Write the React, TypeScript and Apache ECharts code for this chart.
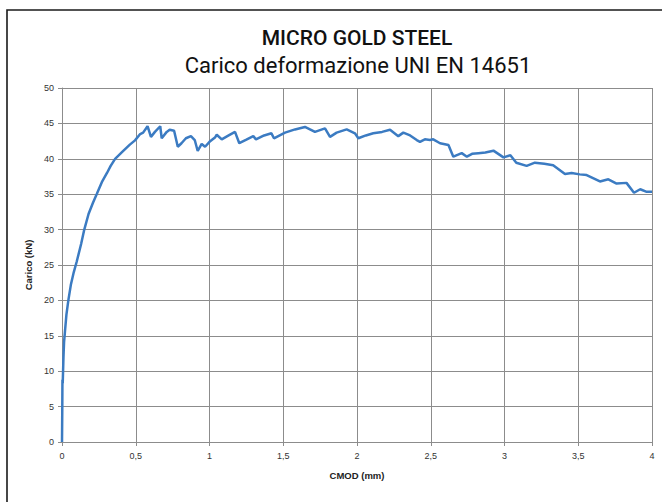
import React, { useEffect, useRef } from "react";
import * as echarts from "echarts";

const titleText = "MICRO GOLD STEEL";
const subtitleText = "Carico deformazione UNI EN 14651";
const xAxisName = "CMOD (mm)";
const yAxisName = "Carico (kN)";

const cmod = [
  0, 0.002, 0.003, 0.005, 0.01, 0.014, 0.02, 0.03, 0.043, 0.06, 0.08, 0.1, 0.13, 0.151, 0.18, 0.21, 0.235,
  0.27, 0.305, 0.33, 0.36, 0.41, 0.46, 0.495, 0.53, 0.55, 0.58, 0.603, 0.63, 0.666, 0.676, 0.71, 0.73,
  0.76, 0.785, 0.81, 0.84, 0.874, 0.9, 0.92, 0.947, 0.97, 1.0, 1.037, 1.049, 1.083, 1.13, 1.173, 1.202,
  1.25, 1.297, 1.315, 1.37, 1.42, 1.437, 1.512, 1.58, 1.647, 1.715, 1.783, 1.817, 1.862, 1.93, 1.986,
  2.009, 2.06, 2.11, 2.17, 2.224, 2.28, 2.314, 2.36, 2.405, 2.427, 2.46, 2.495, 2.517, 2.563, 2.62,
  2.653, 2.71, 2.745, 2.78, 2.823, 2.87, 2.925, 2.993, 3.04, 3.08, 3.15, 3.206, 3.27, 3.33, 3.41,
  3.455, 3.51, 3.557, 3.647, 3.704, 3.76, 3.827, 3.878, 3.92, 3.96, 4.0,
];

const load = [
  0, 5, 8.8, 8.3, 12, 14.1, 15.6, 18, 20, 22.2, 24, 25.5, 28, 30, 32.2, 33.8, 35,
  36.7, 38, 39, 40, 41, 42, 42.6, 43.5, 43.7, 44.6, 43.1, 43.8, 44.6, 42.9, 43.8, 44.1,
  43.95, 41.7, 42.2, 42.9, 43.2, 42.65, 41.1, 42.1, 41.7, 42.4, 43.0, 43.4, 42.75, 43.3, 43.8, 42.2,
  42.7, 43.2, 42.75, 43.3, 43.6, 42.9, 43.7, 44.15, 44.5, 43.8, 44.3, 43.1, 43.7, 44.15, 43.6,
  42.9, 43.3, 43.6, 43.8, 44.1, 43.2, 43.7, 43.3, 42.65, 42.4, 42.75, 42.65, 42.75, 42.2, 41.95,
  40.3, 40.8, 40.3, 40.7, 40.8, 40.9, 41.15, 40.2, 40.5, 39.45, 39.0, 39.45, 39.3, 39.1, 37.85,
  38.0, 37.8, 37.7, 36.8, 37.1, 36.5, 36.6, 35.2, 35.7, 35.35, 35.35,
];

const fmt = (v: number) => String(v).replace(".", ",");

export default function App() {
  const ref = useRef<HTMLDivElement>(null);
  useEffect(() => {
    if (!ref.current) return;
    const chart = echarts.init(ref.current, null, { renderer: "svg" });
    const gridColor = "#8c8c8c";
    const labelFont = "'Liberation Sans', 'DejaVu Sans', sans-serif";
    chart.setOption({
      animation: false,
      backgroundColor: "#ffffff",
      title: [
        {
          text: titleText,
          left: 352,
          top: 22,
          textAlign: "center",
          textStyle: { fontFamily: "Roboto", fontWeight: 500, fontSize: 21, color: "#111" },
        },
        {
          text: subtitleText,
          left: 353,
          top: 49,
          textAlign: "center",
          textStyle: { fontFamily: "Roboto", fontWeight: "normal", fontSize: 22, color: "#111" },
        },
      ],
      graphic: [
        {
          type: "rect",
          shape: { x: 7, y: 10, width: 700, height: 600 },
          style: { fill: "none", stroke: "#1a1a1a", lineWidth: 1.6 },
          silent: true,
        },
      ],
      grid: { left: 62, right: 10, top: 88, bottom: 60, containLabel: false },
      xAxis: {
        type: "value",
        min: 0,
        max: 4,
        interval: 0.5,
        name: xAxisName,
        nameLocation: "middle",
        nameGap: 28,
        nameTextStyle: { fontFamily: labelFont, fontWeight: "bold", fontSize: 9.5, color: "#222" },
        axisLine: { show: true, lineStyle: { color: gridColor, width: 1 } },
        axisTick: { show: true, length: 4, lineStyle: { color: gridColor } },
        splitLine: { show: true, lineStyle: { color: gridColor, width: 1 } },
        axisLabel: {
          formatter: (v: number) => fmt(v),
          fontFamily: labelFont,
          fontSize: 9,
          color: "#333",
          margin: 9,
        },
      },
      yAxis: {
        type: "value",
        min: 0,
        max: 50,
        interval: 5,
        name: yAxisName,
        nameLocation: "middle",
        nameGap: 29,
        nameTextStyle: { fontFamily: labelFont, fontWeight: "bold", fontSize: 9.5, color: "#222" },
        axisLine: { show: true, lineStyle: { color: gridColor, width: 1 } },
        axisTick: { show: true, length: 4, lineStyle: { color: gridColor } },
        splitLine: { show: true, lineStyle: { color: gridColor, width: 1 } },
        axisLabel: { fontFamily: labelFont, fontSize: 9, color: "#333", margin: 8 },
      },
      series: [
        {
          type: "line",
          data: cmod.map((x, i) => [x, load[i]]),
          showSymbol: false,
          symbol: "none",
          lineStyle: { color: "#3b7bc2", width: 2.5 },
          z: 5,
        },
      ],
    });
    return () => chart.dispose();
  }, []);
  return (
    <div
      ref={ref}
      style={{ position: "fixed", left: 0, top: 0, width: 662, height: 502 }}
    />
  );
}
